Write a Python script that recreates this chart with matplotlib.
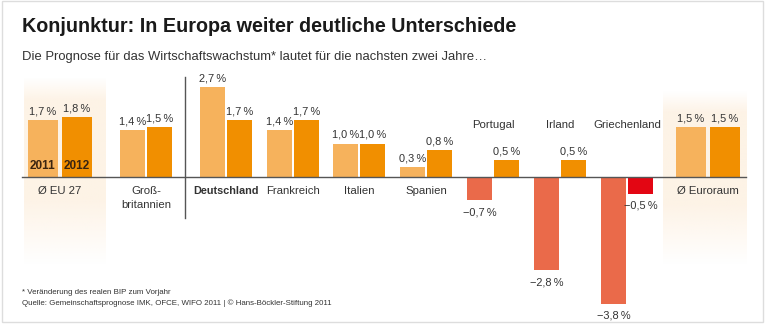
import numpy as np
import matplotlib
matplotlib.use("Agg")
import matplotlib.pyplot as plt
from matplotlib.patches import Rectangle

plt.rcParams['font.family'] = ['Liberation Sans', 'DejaVu Sans']

# Wirtschaftswachstum in Prozent
laender = ["Ø EU 27", "Groß-\nbritannien", "Deutschland", "Frankreich", "Italien",
           "Spanien", "Portugal", "Irland", "Griechenland", "Ø Euroraum"]
wachstum_2011 = [1.7, 1.4, 2.7, 1.4, 1.0, 0.3, -0.7, -2.8, -3.8, 1.5]
wachstum_2012 = [1.8, 1.5, 1.7, 1.7, 1.0, 0.8, 0.5, 0.5, -0.5, 1.5]

# layout (pixel coordinates on a 768 x 325 canvas)
W, H = 768, 325
BASE = 177          # baseline row
PXU = 33.33         # pixels per percentage point
gruppen_x = [60, 146, 226, 293, 359, 426, 493, 560, 627, 708]
schnitt = [0, 9]     # averages get wide bars and a shaded panel
label_oben = [6, 7, 8]

HELL = "#F6B25C"
DUNKEL = "#F18F00"
MINUS = "#EA6A4A"
ROT = "#E30613"
TEXT = "#333333"

fig = plt.figure(figsize=(W / 100, H / 100), dpi=100)
ax = fig.add_axes([0, 0, 1, 1])
ax.set_xlim(0, W)
ax.set_ylim(-(H - BASE) / PXU, BASE / PXU)
ax.axis("off")
px = 1 / PXU


def fy(py):
    return 1 - py / H


# shaded panels behind the averages
for x0, x1, y0, y1 in [(24, 106, 78, 265), (663, 747, 92, 265)]:
    n = 200
    t = np.linspace(0, 1, n)
    a = np.clip(np.minimum(t / 0.12, (1 - t) / 0.35), 0, 1)
    img = np.zeros((n, 2, 4))
    img[..., 0] = 253 / 255
    img[..., 1] = 238 / 255
    img[..., 2] = 220 / 255
    img[..., 3] = 0.7 * a[:, None]
    ax.imshow(img, extent=[x0, x1, -(y1 - BASE) * px, -(y0 - BASE) * px],
              aspect="auto", zorder=0, interpolation="bilinear")

def fmt(v):
    s = f"{abs(v):.1f}".replace(".", ",")
    return ("\u2212" if v < 0 else "") + s + "\u2009%"

for i, name in enumerate(laender):
    xc = gruppen_x[i]
    if i in schnitt:
        bw, off = 30, 17
    else:
        bw, off = 25, 13.5
    for j, v in enumerate([wachstum_2011[i], wachstum_2012[i]]):
        x = xc + (-off if j == 0 else off)
        if v >= 0:
            col = HELL if j == 0 else DUNKEL
        else:
            col = MINUS if j == 0 else ROT
        ax.bar(x, v, width=bw, color=col, zorder=2)
        if v >= 0:
            ax.text(x, v + 9 * px, fmt(v), ha="center", va="center",
                    fontsize=7.9, color=TEXT, zorder=3)
        else:
            ax.text(x, v - 12 * px, fmt(v), ha="center", va="center",
                    fontsize=7.9, color=TEXT, zorder=3)
    # country name
    if i in label_oben:
        ax.text(xc, (BASE - 125) * px, name, ha="center", va="center",
                fontsize=8.2, color=TEXT)
    else:
        bold = name == "Deutschland"
        ax.text(xc, -9 * px, name, ha="center", va="top",
                fontsize=7.8 if bold else 8.2,
                color=TEXT, linespacing=1.45,
                fontweight="bold" if bold else "normal")

# year labels inside the first pair
for j, jahr in enumerate(["2011", "2012"]):
    ax.text(gruppen_x[0] + (-17 if j == 0 else 17), -(166 - BASE) * px, jahr,
            ha="center", va="center", fontsize=8.5, fontweight="bold",
            color="#3A2410", zorder=3)

ax.plot([22, 746], [0, 0], color="#555555", lw=1.0, zorder=4)
ax.plot([185, 185], [-(218 - BASE) * px, (BASE - 77) * px], color="#555555",
        lw=1.0, zorder=4)

# frame
fig.patches.append(Rectangle((2 / W, 1 - 322 / H), 761 / W, 321 / H,
                             transform=fig.transFigure, fill=False,
                             edgecolor="#DDDDDD", lw=1))

fig.text(22 / W, fy(27), "Konjunktur: In Europa weiter deutliche Unterschiede",
         fontsize=14.2, fontweight="bold", color="#1A1A1A", va="center")
fig.text(22 / W, fy(57), "Die Prognose für das Wirtschaftswachstum* lautet für die nachsten zwei Jahre…",
         fontsize=9.4, color=TEXT, va="center")
fig.text(22 / W, fy(292), "* Veränderung des realen BIP zum Vorjahr",
         fontsize=5.7, color=TEXT, va="center")
fig.text(22 / W, fy(303),
         "Quelle: Gemeinschaftsprognose IMK, OFCE, WIFO 2011 | © Hans-Böckler-Stiftung 2011",
         fontsize=5.7, color=TEXT, va="center")

fig.savefig("out.png", dpi=100)
